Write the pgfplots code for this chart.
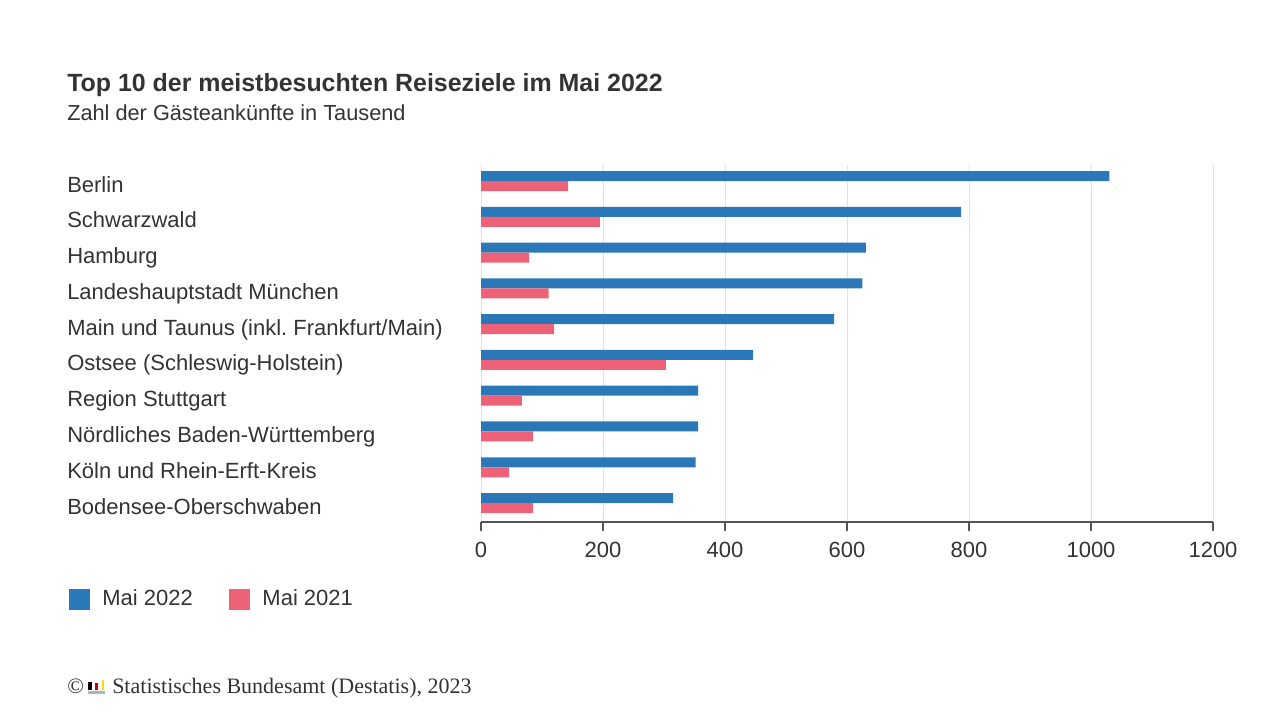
\documentclass[border=0pt]{standalone}
\usepackage{fontspec}
\setmainfont{Liberation Sans}
\newfontfamily\seriffont{Liberation Serif}
\usepackage{pgfplots}
\pgfplotsset{compat=1.18}
\definecolor{blau}{RGB}{42,120,184}
\definecolor{rot}{RGB}{238,98,119}
\definecolor{txt}{RGB}{51,51,51}
\definecolor{gridc}{RGB}{226,226,226}
\definecolor{axc}{RGB}{85,85,85}
\frenchspacing

\begin{document}
\begin{tikzpicture}
\useasboundingbox (0,0) rectangle (960pt,540pt);

\begin{axis}[
  at={(360.75pt,148.5pt)}, anchor=south west,
  scale only axis, width=549pt, height=267.75pt,
  xmin=0, xmax=1200, ymin=-0.53, ymax=9.45,
  xbar, bar width=7.5pt,
  xtick={0,200,...,1200},
  ytick={0,...,9},
  yticklabels={Bodensee-Oberschwaben, Köln und Rhein-Erft-Kreis, Nördliches Baden-Württemberg, Region Stuttgart, Ostsee (Schleswig-Holstein), Main und Taunus (inkl. Frankfurt/Main), Landeshauptstadt München, Hamburg, Schwarzwald, Berlin},
  axis x line=bottom, axis y line=left,
  x axis line style={-, axc, line width=1.1pt},
  y axis line style={draw=none},
  ytick style={draw=none},
  xtick style={axc, line width=1.1pt},
  tick align=outside, major tick length=6.75pt,
  xmajorgrids, grid style={gridc, line width=0.75pt},
  /pgf/number format/1000 sep={},
  /pgf/number format/assume math mode=true,
  xticklabel style={font=\fontsize{16.5}{20}\selectfont, text=txt, yshift=-5pt},
  yticklabel style={font=\fontsize{16.5}{20}\selectfont, text=txt, anchor=west,
    xshift=-303.75pt, yshift=-5.75pt, inner xsep=0pt, text height=0.75em, text depth=0.25em},
  legend style={at={(-0.5628,-0.2157)}, anchor=west, draw=none, fill=none,
    inner sep=0pt, legend columns=2,
    font=\fontsize{16.5}{20}\selectfont, text=txt,
    nodes={inner xsep=0pt},
    /tikz/every odd column/.append style={column sep=9pt},
    /tikz/every even column/.append style={column sep=27.5pt}},
  legend image code/.code={\fill[#1,draw=none] (0pt,-7.875pt) rectangle (15.75pt,7.875pt);},
]
\addplot[fill=blau, draw=none, bar shift=3.75pt] coordinates {
  (315,0) (352,1) (356,2) (356,3) (446,4) (579,5) (625,6) (631,7) (787,8) (1030,9)
};
\addlegendentry{Mai 2022}
\addplot[fill=rot, draw=none, bar shift=-3.75pt] coordinates {
  (85,0) (46,1) (85,2) (67,3) (303,4) (120,5) (111,6) (79,7) (195,8) (143,9)
};
\addlegendentry{Mai 2021}
\end{axis}

\begin{scope}[x=0.75pt, y=-0.75pt, shift={(0pt,540pt)}]
  \node[anchor=base west, inner sep=0pt, text=txt, font=\fontsize{18.7}{22}\selectfont\bfseries]
    at (67,92) {Top 10 der meistbesuchten Reiseziele im Mai 2022};
  \node[anchor=base west, inner sep=0pt, text=txt, font=\fontsize{16.3}{20}\selectfont]
    at (67,121) {Zahl der Gästeankünfte in Tausend};
  % footer
  \node[anchor=base west, inner sep=0pt, text=txt, font=\seriffont\fontsize{16.5}{20}\selectfont]
    at (67,694) {©};
  \fill[black] (88.3,681.7) rectangle (91.7,690);
  \fill[red!80!black] (95,683) rectangle (97.7,690);
  \fill[yellow!80!orange] (101.7,680) rectangle (104.3,690);
  \fill[gray!60] (88,691) rectangle (104.5,694);
  \node[anchor=base west, inner sep=0pt, text=txt, font=\seriffont\fontsize{16.5}{20}\selectfont]
    at (112,694) {Statistisches Bundesamt (Destatis), 2023};
\end{scope}
\end{tikzpicture}
\end{document}
